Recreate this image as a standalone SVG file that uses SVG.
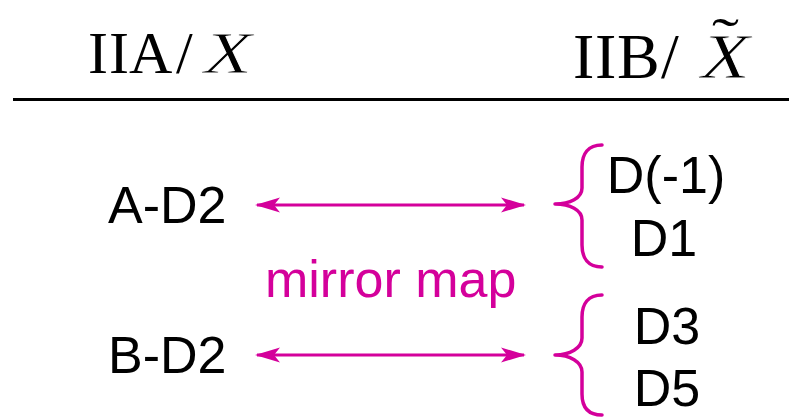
<svg xmlns="http://www.w3.org/2000/svg" width="790" height="417" viewBox="0 0 790 417">
  <style>
    .hdr { font-family: "Liberation Serif", "DejaVu Serif", serif; fill: #000; }
    .it { font-style: italic; stroke: #fff; stroke-width: 0.8; }
    .lbl { font-family: "Liberation Sans", Arial, sans-serif; font-size: 52px; fill: #000; }
    .mag { fill: #d4009b; }
    .brace { fill: none; stroke: #d4009b; stroke-width: 3.5; stroke-linecap: round; stroke-linejoin: round; }
    .conn { stroke: #d4009b; stroke-width: 3; fill: none; }
  </style>
  <defs>
    <marker id="head" viewBox="0 0 25 16" refX="23" refY="8" markerUnits="userSpaceOnUse" markerWidth="25" markerHeight="16" orient="auto-start-reverse">
      <path d="M25,8 L0,0.5 L6,8 L0,15.5 Z" fill="#d4009b"/>
    </marker>
  </defs>

  <rect width="790" height="417" fill="#fff"/>

  <!-- column headers and rule -->
  <g id="header">
    <text class="hdr" font-size="60" y="73"><tspan x="88">I</tspan><tspan x="109">I</tspan><tspan x="129">A</tspan><tspan x="176">/</tspan></text>
    <text class="hdr it" font-size="60" x="204" y="73" textLength="48" lengthAdjust="spacingAndGlyphs">X</text>
    <text class="hdr" font-size="64" y="78"><tspan x="573">I</tspan><tspan x="595">I</tspan><tspan x="617">B</tspan><tspan x="661">/</tspan></text>
    <text class="hdr it" font-size="64" x="701" y="78" textLength="49" lengthAdjust="spacingAndGlyphs">X</text>
    <text class="hdr" font-size="52" x="712" y="55" textLength="27" lengthAdjust="spacingAndGlyphs">&#x2DC;</text>
    <line x1="13" y1="99.5" x2="789" y2="99.5" stroke="#000" stroke-width="3"/>
  </g>

  <!-- type IIA branes -->
  <g id="a-d2">
    <text class="lbl" x="108" y="223">A-D2</text>
  </g>
  <g id="b-d2">
    <text class="lbl" x="108" y="373">B-D2</text>
  </g>

  <!-- type IIB brane pairs -->
  <g id="d-1-d1">
    <path class="brace" d="M602,145 C588,145 582,154 582,167 L582,188 C582,198 570,204 555,204 C570,204 582,210 582,220 L582,245 C582,258 588,267 602,267"/>
    <text class="lbl" x="666" y="193" text-anchor="middle">D(-1)</text>
    <text class="lbl" x="664" y="256" text-anchor="middle">D1</text>
  </g>
  <g id="d3-d5">
    <path class="brace" d="M602,295 C588,295 582,304 582,317 L582,338 C582,348 570,355 555,355 C570,355 582,362 582,372 L582,394 C582,407 588,415 602,415"/>
    <text class="lbl" x="667" y="344" text-anchor="middle">D3</text>
    <text class="lbl" x="667" y="406" text-anchor="middle">D5</text>
  </g>

  <!-- mirror map arrows -->
  <g id="connectors">
    <line class="conn" x1="257" y1="205" x2="524" y2="205" marker-start="url(#head)" marker-end="url(#head)"/>
    <line class="conn" x1="257" y1="355" x2="524" y2="355" marker-start="url(#head)" marker-end="url(#head)"/>
    <text class="lbl mag" x="265" y="297">mirror map</text>
  </g>
</svg>
